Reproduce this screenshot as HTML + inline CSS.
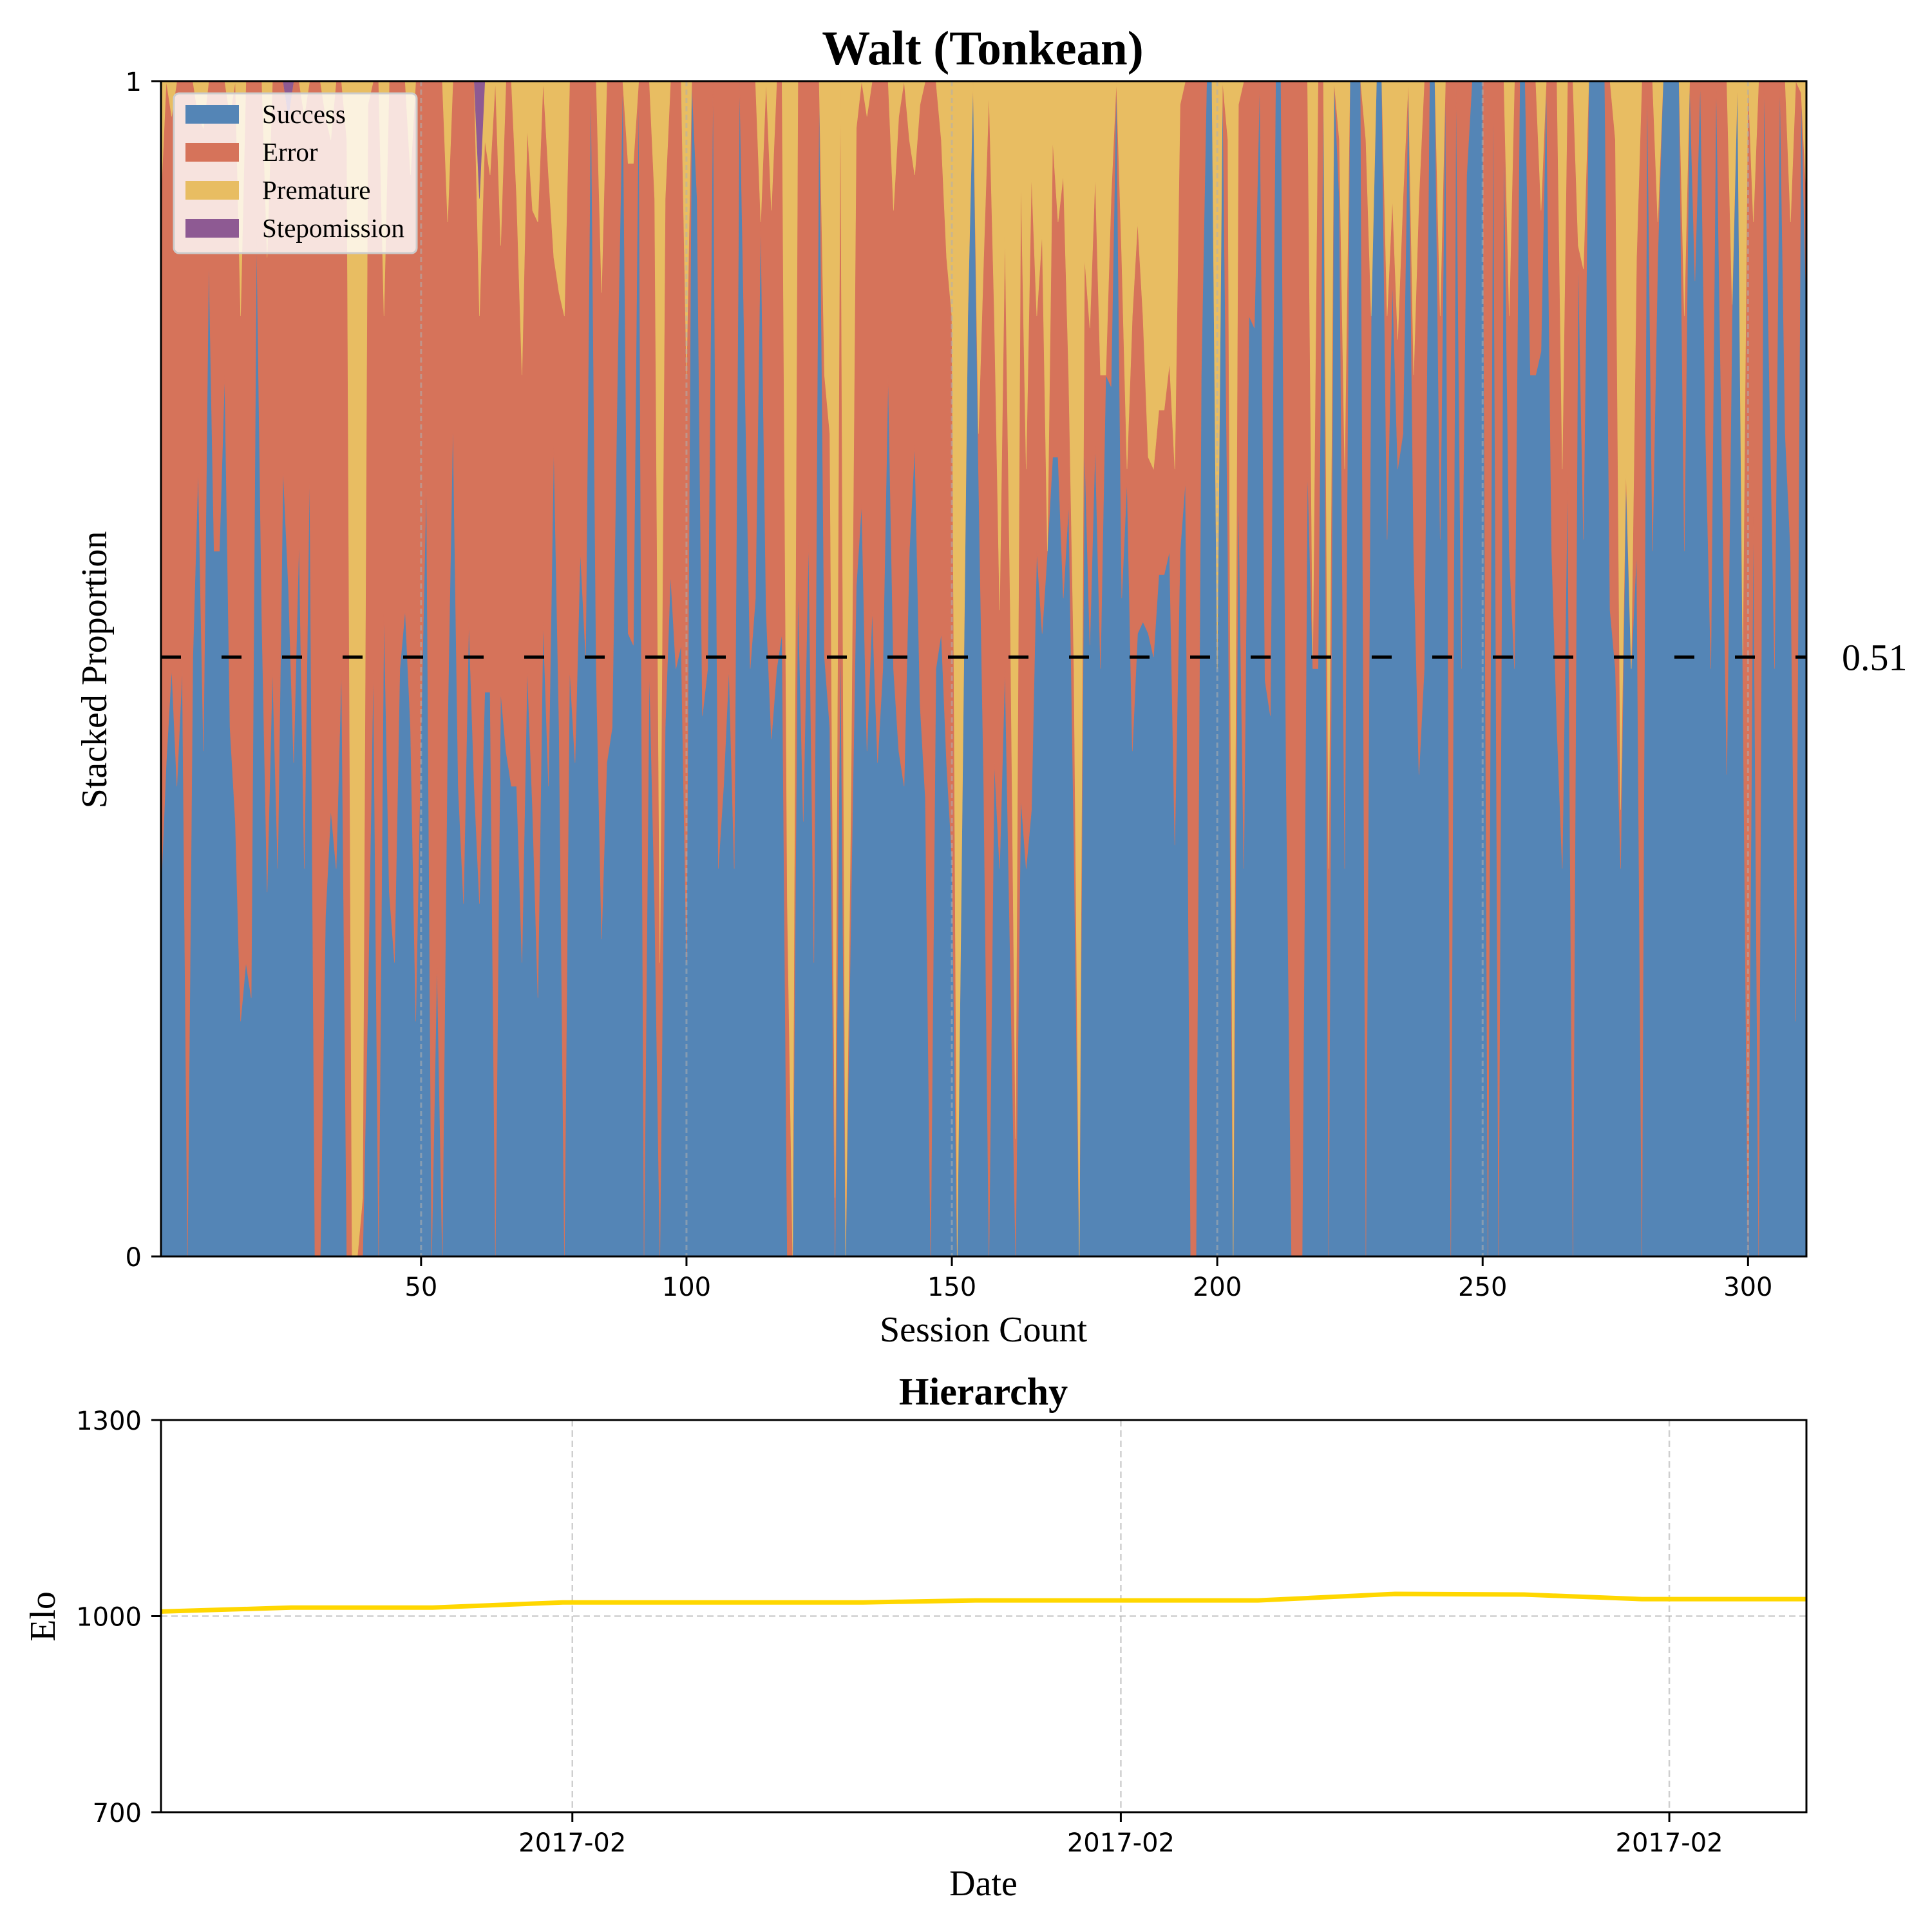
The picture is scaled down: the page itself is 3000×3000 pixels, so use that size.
<!DOCTYPE html>
<html><head><meta charset="utf-8">
<style>
html,body{margin:0;padding:0;background:#fff;}
svg{display:block;}
text{font-family:"Liberation Serif","DejaVu Serif",serif;}
.tick{font-family:"DejaVu Sans","Liberation Sans",sans-serif;font-size:40px;fill:#000;}
</style></head>
<body>
<svg id="fig" width="3000" height="3000" viewBox="0 0 3000 3000" xmlns="http://www.w3.org/2000/svg">
<rect x="0" y="0" width="3000" height="3000" fill="#fff"/>
<text x="1526" y="100" text-anchor="middle" font-size="75" font-weight="bold">Walt (Tonkean)</text>
<g id="topPanel"></g>
<g id="bottomPanel"></g>
</svg>
<script>
const sessionStart = 1;
const success = [
.31,.42,.50,.40,.50,0,.51,.67,.43,.85,.60,.60,.75,.45,.37,.20,.25,.22,.87,.54,.31,.50,.33,.67,.57,.42,.61,.33,.67,0,
0,.29,.38,.33,.50,0,0,0,0,.22,.50,0,.55,.31,.25,.50,.55,.45,.20,.45,.66,0,.25,0,.45,.71,.40,.30,.54,.40,.30,.48,.48,
0,.48,.43,.40,.40,.25,.50,.38,.22,.54,.40,.69,.45,0,.50,.42,.60,.51,1,.50,.27,.42,.45,.75,1,.53,.52,1,0,.5,
.30,0,.45,.58,.50,.52,.25,1,.90,.46,.50,1,.33,.40,.50,.33,1,.75,.50,.56,.88,.55,.44,.50,.53,0,0,.57,.37,.61,.25,1,.51,
.45,0,.53,0,.3,.57,.64,.43,.55,.42,.5,.75,.50,.43,.40,.60,.69,.47,.39,0,.50,.53,.42,.34,0,.40,.80,1,.67,.40,
0,.42,.33,.50,.25,0,.39,.33,.38,.60,.53,.60,.68,.68,.56,.64,.35,0,.69,.52,.69,.50,.75,.74,1,.56,.66,.43,.53,.54,.53,.51,.58,
.58,
.60,.35,.60,.66,0,0,.75,1,1,.5,1,.6,0,.65,.33,.8,.79,1,.49,.46,1,1,.4,0,0,0,.67,.5,.5,1,
0,1,.9,.33,1,1,1,0,.8,1,1,.61,.83,.67,.7,1,.6,.41,.5,1,1,.61,1,0,1,.5,.92,1,1,1,0,1,0,
.95,.6,.5,1,1,.75,.75,.77,1,.6,.45,.33,.66,0,.85,.61,1,1,1,1,.55,.5,.33,.66,.5,.6,0,1,.6,.85,
1,1,1,1,.6,1,.83,1,.7,.5,1,.7,.41,.8,1,.5,0,.63,0,1,.75,.5,1,.7,.6,.2,.99,.8];
const error = [
.59,.58,.47,.60,.50,1,.49,.30,.53,.15,.40,.40,.25,.52,.63,.60,.75,.78,.13,.46,.54,.50,.67,.33,.40,.58,.39,.64,.33,1,
1,.68,.57,.67,.50,.95,0,0,.05,.76,.50,1,.25,.69,.75,.50,.45,.47,.80,.55,.34,1,.75,1,.43,.29,.60,.70,.46,.60,.50,.47,.44,
1,.38,.57,.60,.50,.50,.46,.51,.66,.46,.52,.16,.37,.80,.50,.58,.40,.49,0,.50,.55,.58,.55,.25,0,.40,.41,0,1,.5,
.60,.25,.45,.42,.50,.48,.50,0,.10,.54,.50,0,.67,.60,.50,.67,0,.25,.50,.44,0,.45,.45,.50,.47,.30,0,.43,.63,.39,.75,0,.24,
.25,.05,.47,0,.1,.39,.36,.54,.45,.58,.5,.25,.39,.54,.60,.35,.23,.51,.61,1,.5,.42,.43,.46,0,0,0,0,.03,.45,
.99,.38,.22,.37,.30,.10,.53,.34,.54,.2,.34,0,.27,.2,.36,.11,.15,0,.16,.27,.23,.25,0,.16,0,.29,.01,.37,.35,.26,.15,.16,.14,
.14,
.16,.32,.38,.34,1,1,.25,0,0,0,0,.35,0,.33,.67,.2,.21,0,.51,.54,0,0,.6,1,1,1,.33,.01,.5,0,
.33,0,.05,.34,0,0,0,.95,0,0,0,.19,.07,.11,.2,0,.15,.49,.5,0,0,.19,0,1,0,.5,.08,0,0,0,1,0,1,
.05,.2,.5,0,0,.25,.25,.12,0,.4,.55,.34,.34,1,.01,.23,0,0,0,0,.45,.45,.05,.01,0,.25,1,0,.4,.03,
0,0,0,0,.2,0,.17,0,.3,.5,0,.3,.59,.01,0,.01,1,.25,1,0,.25,.5,0,.3,.28,.8,0,.1];
const premature = [
.10,0,.03,0,0,0,0,.03,.04,0,0,0,0,.03,0,.20,0,0,0,0,.15,0,0,0,0,0,0,.03,0,0,
0,.03,.05,0,0,.05,1,1,.95,.02,0,0,.20,0,0,0,0,.08,0,0,0,0,0,0,.12,0,0,0,0,0,.10,.05,.08,
0,.14,0,0,.10,.25,.04,.11,.12,0,.08,.15,.18,.20,0,0,0,0,0,0,.18,0,0,0,0,.07,.07,0,0,0,
.10,.75,.10,0,0,0,.25,0,0,0,0,0,0,0,0,0,0,0,0,0,.12,0,.11,0,0,.70,1,0,0,0,0,0,.25,
.3,.95,0,1,.6,.04,0,.03,0,0,0,0,.11,.03,0,.05,.08,.02,0,0,0,.05,.15,.2,1,.6,.2,0,.3,.15,
.01,.2,.45,.13,.45,.9,.08,.33,.08,.2,.13,.4,.05,.12,.08,.25,.5,1,.15,.21,.08,.25,.25,.1,0,.15,.33,.2,.12,.2,.32,.33,.28,
.28,
.24,.33,.02,0,0,0,0,0,0,.5,0,.05,1,.02,0,0,0,0,0,0,0,0,0,0,0,0,0,.49,0,0,
.67,0,.05,.33,0,0,0,.05,.2,0,0,.2,.1,.22,.1,0,.25,.1,0,0,0,.2,0,0,0,0,0,0,0,0,0,0,0,
0,.2,0,0,0,0,0,.11,0,0,0,.33,0,0,.14,.16,0,0,0,0,0,.05,.62,.33,.5,.15,0,0,0,.12,
0,0,0,0,.2,0,0,0,0,0,0,0,0,.19,0,.49,0,.12,0,0,0,0,0,0,.12,0,.01,.1];
const stepomission = [
0,0,0,0,0,0,0,0,0,0,0,0,0,0,0,0,0,0,0,0,0,0,0,0,.03,0,0,0,0,0,
0,0,0,0,0,0,0,0,0,0,0,0,0,0,0,0,0,0,0,0,0,0,0,0,0,0,0,0,0,0,.10,0,0,
0,0,0,0,0,0,0,0,0,0,0,0,0,0,0,0,0,0,0,0,0,0,0,0,0,0,0,0,0,0,
0,0,0,0,0,0,0,0,0,0,0,0,0,0,0,0,0,0,0,0,0,0,0,0,0,0,0,0,0,0,0,0,0,
0,0,0,0,0,0,0,0,0,0,0,0,0,0,0,0,0,0,0,0,0,0,0,0,0,0,0,0,0,0,
0,0,0,0,0,0,0,0,0,0,0,0,0,0,0,0,0,0,0,0,0,0,0,0,0,0,0,0,0,0,0,0,0,
0,
0,0,0,0,0,0,0,0,0,0,0,0,0,0,0,0,0,0,0,0,0,0,0,0,0,0,0,0,0,0,
0,0,0,0,0,0,0,0,0,0,0,0,0,0,0,0,0,0,0,0,0,0,0,0,0,0,0,0,0,0,0,0,0,
0,0,0,0,0,0,0,0,0,0,0,0,0,0,0,0,0,0,0,0,0,0,0,0,0,0,0,0,0,0,
0,0,0,0,0,0,0,0,0,0,0,0,0,0,0,0,0,0,0,0,0,0,0,0,0,0,0,0];
const seriesNames = ["Success","Error","Premature","Stepomission"];
const seriesColors = ["#5485b6","#d6735a","#e8bd62","#8e5a93"];
const xTicks = [50,100,150,200,250,300];
const yTicks = [0,1];
const meanSuccess = 0.51;

const eloDays = [0,0.95,1.98,2.93,5.12,5.94,8.0,9.0,9.94,10.8,12];
const eloValues = [1007,1013,1013,1021,1021,1024,1024,1034,1033,1026,1026];
const eloYTicks = [700,1000,1300];
const dateTickDays = [3,7,11];
const dateTickLabels = ["2017-02","2017-02","2017-02"];

const NS = "http://www.w3.org/2000/svg";
function mk(parent, tag, attrs, txt){
  const e = document.createElementNS(NS, tag);
  for (const k in attrs) e.setAttribute(k, attrs[k]);
  if (txt !== undefined) e.textContent = txt;
  parent.appendChild(e);
  return e;
}
const L = 250, R = 2805, T = 126, B = 1951;
const nPts = success.length;
const sx = s => L + (s - sessionStart) * (R - L) / (nPts - 1);
const sy = v => B - v * (B - T);
const topG = document.getElementById("topPanel");
const allSeries = [success, error, premature, stepomission];
const cum = new Array(nPts).fill(0);
allSeries.forEach((vals, si) => {
  const lower = cum.slice();
  for (let i = 0; i < nPts; i++) cum[i] += vals[i];
  let d = "";
  for (let i = 0; i < nPts; i++) d += (i ? "L" : "M") + sx(i + sessionStart).toFixed(1) + "," + sy(Math.min(cum[i],1)).toFixed(1);
  for (let i = nPts - 1; i >= 0; i--) d += "L" + sx(i + sessionStart).toFixed(1) + "," + sy(Math.min(lower[i],1)).toFixed(1);
  d += "Z";
  const p = mk(topG, "path", {d: d, fill: seriesColors[si], stroke: seriesColors[si], "stroke-width": "0.6"});
  
  
});
xTicks.forEach(t => {
  const g = mk(topG, "line", {x1: sx(t), x2: sx(t), y1: T, y2: B, stroke: "#b0b0b0", "stroke-width": 3, "stroke-dasharray": "8 5", opacity: 0.55});
  
  
});
const ml = mk(topG, "line", {x1: L, x2: R, y1: sy(meanSuccess), y2: sy(meanSuccess), stroke: "#000", "stroke-width": 5, "stroke-dasharray": "31 63"});


const mlt = mk(topG, "text", {x: 2860, y: sy(meanSuccess) + 20, "font-size": 58}, meanSuccess.toFixed(2));


const fr = mk(topG, "rect", {x: L, y: T, width: R - L, height: B - T, fill: "none", stroke: "#000", "stroke-width": 3});


xTicks.forEach(t => {
  const tk = mk(topG, "line", {x1: sx(t), x2: sx(t), y1: B, y2: B + 15, stroke: "#000", "stroke-width": 3});
  
  
  const tl = mk(topG, "text", {x: sx(t), y: 2012, "text-anchor": "middle", class: "tick"}, String(t));
  
  
});
yTicks.forEach(t => {
  const tk = mk(topG, "line", {x1: L - 15, x2: L, y1: sy(t), y2: sy(t), stroke: "#000", "stroke-width": 3});
  
  
  const tl = mk(topG, "text", {x: 220, y: sy(t) + 15, "text-anchor": "end", class: "tick"}, String(t));
  
  
});
const xl = mk(topG, "text", {x: 1527, y: 2083, "text-anchor": "middle", "font-size": 56}, "Session Count");


const yl = mk(topG, "text", {x: 0, y: 0, "text-anchor": "middle", "font-size": 56, transform: "translate(165,1040) rotate(-90)"}, "Stacked Proportion");


const lg = mk(topG, "g", {});


const lbox = mk(lg, "rect", {x: 270, y: 145, width: 377, height: 248, rx: 8, fill: "#fff", "fill-opacity": 0.8, stroke: "#ccc", "stroke-width": 3});


seriesNames.forEach((nm, i) => {
  const cy = 177 + i * 59;
  const sw = mk(lg, "rect", {x: 288, y: cy - 14, width: 83, height: 29, fill: seriesColors[i]});
  
  
  const lt = mk(lg, "text", {x: 407, y: cy + 14, "font-size": 41}, nm);
  
  
});
const bL = 250, bR = 2805, bT = 2205, bB = 2814;
const dMin = 0, dMax = 12;
const bx = d => bL + (d - dMin) * (bR - bL) / (dMax - dMin);
const by = v => bB - (v - 700) * (bB - bT) / 600;
const botG = document.getElementById("bottomPanel");
const ht = mk(botG, "text", {x: 1527, y: 2181, "text-anchor": "middle", "font-size": 60, "font-weight": "bold"}, "Hierarchy");


dateTickDays.forEach((d, i) => {
  const g = mk(botG, "line", {x1: bx(d), x2: bx(d), y1: bT, y2: bB, stroke: "#b0b0b0", "stroke-width": 2.5, "stroke-dasharray": "10 6", opacity: 0.6});
  
  
  const tk = mk(botG, "line", {x1: bx(d), x2: bx(d), y1: bB, y2: bB + 15, stroke: "#000", "stroke-width": 3});
  
  
  const tl = mk(botG, "text", {x: bx(d), y: 2875, "text-anchor": "middle", class: "tick"}, dateTickLabels[i]);
  
  
});
const rl = mk(botG, "line", {x1: bL, x2: bR, y1: by(1000), y2: by(1000), stroke: "#b0b0b0", "stroke-width": 2.5, "stroke-dasharray": "10 6", opacity: 0.6});


let ed = "";
eloDays.forEach((d, i) => { ed += (i ? "L" : "M") + bx(d).toFixed(1) + "," + by(eloValues[i]).toFixed(1); });
const el = mk(botG, "path", {d: ed, fill: "none", stroke: "#ffd700", "stroke-width": 7, "stroke-linejoin": "round"});


const bf = mk(botG, "rect", {x: bL, y: bT, width: bR - bL, height: bB - bT, fill: "none", stroke: "#000", "stroke-width": 3});


eloYTicks.forEach(t => {
  const tk = mk(botG, "line", {x1: bL - 15, x2: bL, y1: by(t), y2: by(t), stroke: "#000", "stroke-width": 3});
  
  
  const tl = mk(botG, "text", {x: 220, y: by(t) + 15, "text-anchor": "end", class: "tick"}, String(t));
  
  
});
const dl = mk(botG, "text", {x: 1527, y: 2943, "text-anchor": "middle", "font-size": 56}, "Date");


const eyl = mk(botG, "text", {x: 0, y: 0, "text-anchor": "middle", "font-size": 56, transform: "translate(85,2510) rotate(-90)"}, "Elo");


</script>
</body></html>
